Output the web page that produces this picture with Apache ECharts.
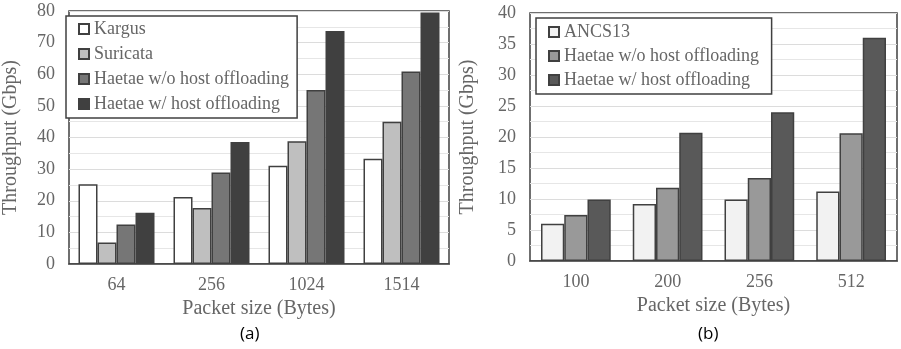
<!DOCTYPE html>
<html>
<head>
<meta charset="utf-8">
<script src="https://cdn.jsdelivr.net/npm/echarts@6/dist/echarts.min.js"></script>
<style>
  html, body { margin: 0; padding: 0; background: #fff; }
  #chart { width: 901px; height: 349px; }
</style>
</head>
<body>
<div id="chart"></div>
<script>
// (a) Throughput of IDS engines by packet size
const sizesA = ['64', '256', '1024', '1514'];
const kargus = [25.2, 21.2, 31.1, 33.3];
const suricata = [6.8, 17.7, 38.8, 45.0];
const haetaeNoHostA = [12.5, 28.9, 55.0, 60.9];
const haetaeHostA = [16.2, 38.6, 73.7, 79.5];

// (b) Throughput compared with ANCS13
const sizesB = ['100', '200', '256', '512'];
const ancs13 = [6.0, 9.2, 9.9, 11.2];
const haetaeNoHostB = [7.4, 11.8, 13.4, 20.6];
const haetaeHostB = [9.9, 20.7, 24.0, 36.0];

const serif = '"Liberation Serif", "Times New Roman", serif';
const sans = '"Open Sans", "Liberation Sans", sans-serif';
const textGray = '#666666';
const edge = '#404040';

function bar(name, data, color, axisIndex, gapPct) {
  return {
    name, type: 'bar', data,
    xAxisIndex: axisIndex, yAxisIndex: axisIndex,
    barGap: '0%', barCategoryGap: gapPct,
    itemStyle: { color, borderColor: edge, borderWidth: 1.5 },
    emphasis: { disabled: true }
  };
}

function xAxis(gridIndex, data) {
  return {
    type: 'category', gridIndex, data,
    name: 'Packet size (Bytes)', nameLocation: 'middle', nameGap: 34,
    nameTextStyle: { fontFamily: serif, fontSize: 20, color: textGray },
    axisLine: { lineStyle: { color: edge, width: 1.5 } },
    axisTick: { show: false },
    axisLabel: { fontFamily: serif, fontSize: 18, color: textGray, margin: 12 }
  };
}

function yAxis(gridIndex, max, interval, gap) {
  return {
    type: 'value', gridIndex, min: 0, max, interval,
    name: 'Throughput (Gbps)', nameLocation: 'middle', nameGap: gap,
    nameTextStyle: { fontFamily: serif, fontSize: 20, color: textGray },
    axisLine: { show: false }, axisTick: { show: false },
    axisLabel: { fontFamily: serif, fontSize: 18, color: textGray, margin: 14 },
    splitLine: { lineStyle: { color: '#dcdcdc', width: 1 } },
    minorTick: { show: false, splitNumber: 2 },
    minorSplitLine: { show: true, lineStyle: { color: '#e6e6e6', width: 1 } }
  };
}

function legend(left, top, names, pad, gap) {
  return {
    left, top, orient: 'vertical', data: names,
    itemWidth: 10, itemHeight: 10, itemGap: gap,
    icon: 'rect',
    padding: pad,
    borderColor: edge, borderWidth: 1.5,
    backgroundColor: '#fff',
    textStyle: { fontFamily: serif, fontSize: 18, color: textGray, lineHeight: 20 },
    selectedMode: false
  };
}

const chart = echarts.init(document.getElementById('chart'), null, { renderer: 'canvas' });
chart.setOption({
  animation: false,
  backgroundColor: '#fff',
  title: [
    { text: '(a)', left: 240, top: 326, padding: 0,
      textStyle: { fontFamily: sans, fontSize: 17, fontWeight: 'normal', color: '#000' } },
    { text: '(b)', left: 698, top: 326, padding: 0,
      textStyle: { fontFamily: sans, fontSize: 17, fontWeight: 'normal', color: '#000' } }
  ],
  grid: [
    { left: 64, right: 452, top: 11, bottom: 85, show: true, borderColor: edge, borderWidth: 1.5 },
    { left: 530, right: 4, top: 13, bottom: 88, show: true, borderColor: edge, borderWidth: 1.5 }
  ],
  legend: [
    legend(66, 16, ['Kargus', 'Suricata', 'Haetae w/o host offloading', 'Haetae w/ host offloading'], [3, 8, 4, 12], 5),
    legend(536, 18, ['ANCS13', 'Haetae w/o host offloading ', 'Haetae w/ host offloading '], [4, 8, 4, 12], 4)
  ],
  xAxis: [xAxis(0, sizesA), xAxis(1, sizesB)],
  yAxis: [yAxis(0, 80, 10, 48), yAxis(1, 40, 5, 52)],
  series: [
    bar('Kargus', kargus, '#ffffff', 0, '20%'),
    bar('Suricata', suricata, '#bfbfbf', 0, '20%'),
    bar('Haetae w/o host offloading', haetaeNoHostA, '#767676', 0, '20%'),
    bar('Haetae w/ host offloading', haetaeHostA, '#404040', 0, '20%'),
    bar('ANCS13', ancs13, '#f2f2f2', 1, '24%'),
    bar('Haetae w/o host offloading ', haetaeNoHostB, '#999999', 1, '24%'),
    bar('Haetae w/ host offloading ', haetaeHostB, '#595959', 1, '24%')
  ]
});
</script>
</body>
</html>
